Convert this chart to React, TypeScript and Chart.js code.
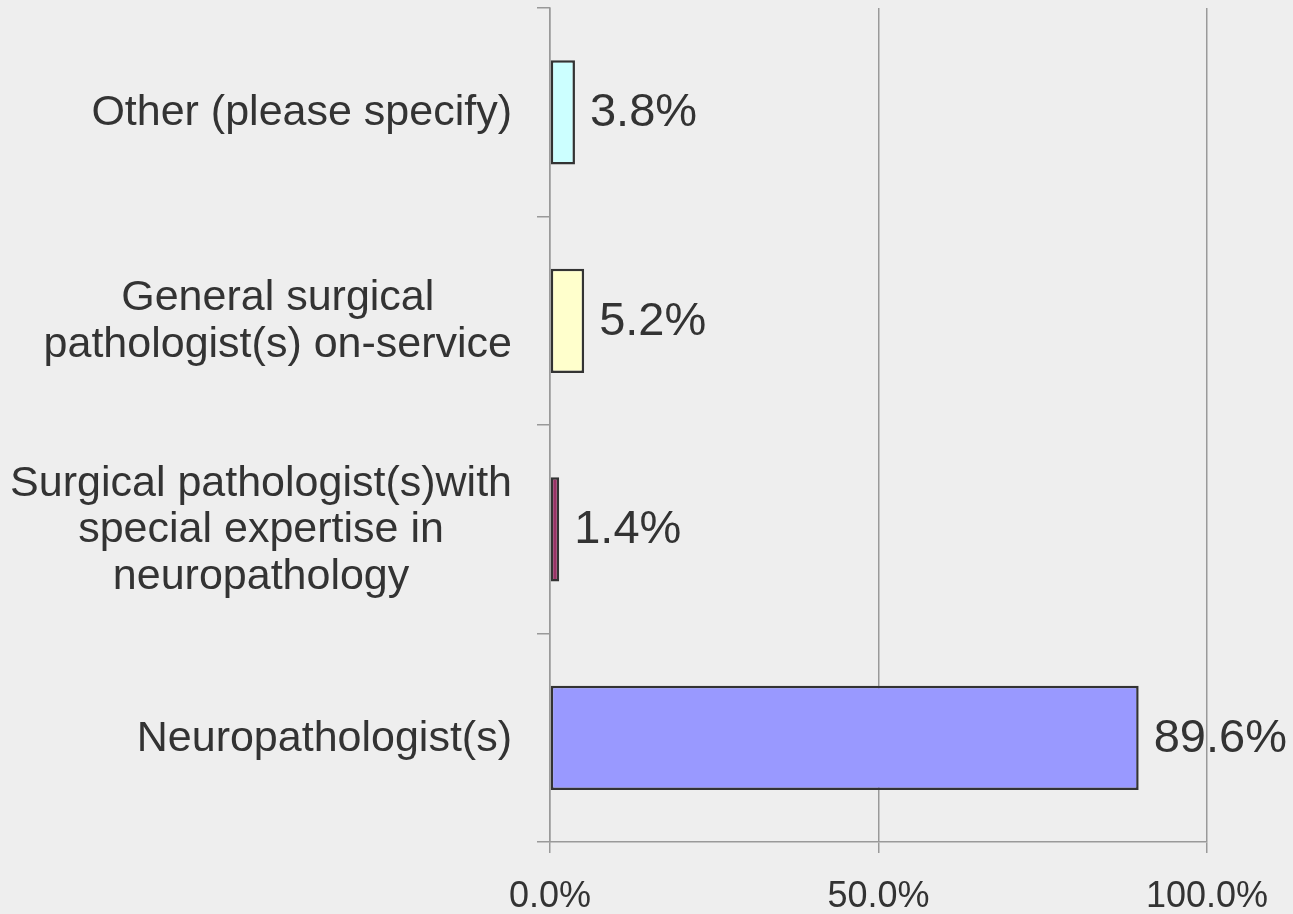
import React, { useEffect, useRef } from "react";
import { Chart, registerables } from "chart.js";

Chart.register(...registerables);

const categories: string[][] = [
  ["Other (please specify)"],
  ["General surgical", "pathologist(s) on-service"],
  ["Surgical pathologist(s)with", "special expertise in", "neuropathology"],
  ["Neuropathologist(s)"],
];
const values: number[] = [3.8, 5.2, 1.4, 89.6];
const barColors: string[] = ["#CCFFFF", "#FFFFCC", "#993366", "#9999FF"];
const xTicks: number[] = [0, 50, 100];

const FONT = '"Liberation Sans", Arial, Helvetica, sans-serif';
const TEXT = "#333333";
const GRID = "#999999";

const labelPlugin = {
  id: "customLabels",
  afterDraw(chart: any) {
    const ctx = chart.ctx;
    const yScale = chart.scales.y;
    ctx.save();
    ctx.fillStyle = TEXT;
    // category labels: block right-aligned, lines centered within block
    ctx.font = `43px ${FONT}`;
    ctx.textBaseline = "middle";
    ctx.textAlign = "center";
    const lh = 46.5;
    const rightEdge = yScale.right - 38;
    categories.forEach((lines, i) => {
      const yc = yScale.getPixelForValue(i);
      const w = Math.max(...lines.map((l) => ctx.measureText(l).width));
      const xc = rightEdge - w / 2;
      lines.forEach((l, k) => {
        ctx.fillText(l, xc, yc + 1 - ((lines.length - 1) * lh) / 2 + k * lh);
      });
    });
    // data labels
    ctx.font = `47px ${FONT}`;
    ctx.textAlign = "left";
    const meta = chart.getDatasetMeta(0);
    meta.data.forEach((bar: any, i: number) => {
      ctx.fillText(values[i].toFixed(1) + "%", bar.x + 15, bar.y + 1);
    });
    ctx.restore();
  },
};

export default function App() {
  const ref = useRef<HTMLCanvasElement>(null);
  useEffect(() => {
    if (!ref.current) return;
    const chart = new Chart(ref.current, {
      type: "bar",
      data: {
        labels: categories.map((c) => c.join(" ")),
        datasets: [
          {
            data: values,
            backgroundColor: barColors,
            borderColor: "#333333",
            borderWidth: 2.5,
            borderSkipped: false,
            categoryPercentage: 1,
            barPercentage: 0.5,
          },
        ],
      },
      options: {
        indexAxis: "y",
        responsive: false,
        animation: false,
        layout: { padding: { top: 8, right: 86, left: 0, bottom: 0 } },
        plugins: { legend: { display: false }, tooltip: { enabled: false } },
        scales: {
          x: {
            min: 0,
            max: 100,
            afterBuildTicks: (s: any) => {
              s.ticks = xTicks.map((v) => ({ value: v }));
            },
            ticks: {
              callback: (v: any) => Number(v).toFixed(1) + "%",
              font: { size: 36, family: FONT },
              color: TEXT,
              padding: 22,
              maxRotation: 0,
              autoSkip: false,
            },
            grid: { color: GRID, lineWidth: 1.5, tickLength: 11 },
            border: { color: GRID, width: 1.5 },
            afterFit: (s: any) => {
              s.height = 72;
            },
          },
          y: {
            ticks: { display: false },
            grid: {
              drawOnChartArea: false,
              tickLength: 13,
              color: GRID,
              lineWidth: 1.5,
              offset: true,
            },
            border: { color: GRID, width: 1.5 },
            afterFit: (s: any) => {
              s.width = 550;
            },
          },
        },
      },
      plugins: [labelPlugin],
    } as any);
    return () => chart.destroy();
  }, []);
  return (
    <div
      style={{
        position: "fixed",
        left: 0,
        top: 0,
        width: 1293,
        height: 914,
        background: "#eeeeee",
      }}
    >
      <canvas ref={ref} width={1293} height={914} style={{ display: "block", width: 1293, height: 914 }} />
    </div>
  );
}
